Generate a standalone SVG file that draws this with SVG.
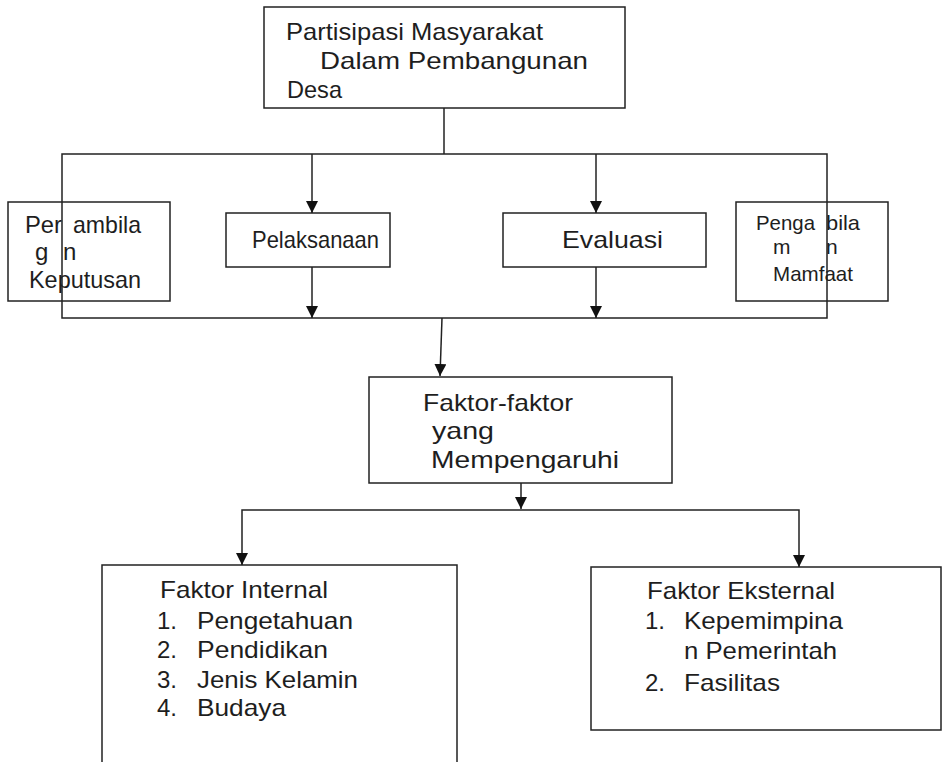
<svg xmlns="http://www.w3.org/2000/svg" width="949" height="762" viewBox="0 0 949 762">
<style>
  .box { fill: #fff; stroke: #222; stroke-width: 1.5; }
  .open { fill: none; stroke: #222; stroke-width: 1.5; }
  .t { font-family: "Liberation Sans", Arial, sans-serif; font-size: 24px; fill: #1e1e1e; }
  .s { font-size: 21px; }
  .c { fill: none; stroke: #222; stroke-width: 1.5; }
  .ca { fill: none; stroke: #222; stroke-width: 1.5; marker-end: url(#arr); }
</style>
<defs>
  <marker id="arr" markerUnits="userSpaceOnUse" markerWidth="12" markerHeight="12" refX="12" refY="6" orient="auto">
    <path d="M0,0 L12,6 L0,12 z" fill="#111"/>
  </marker>
</defs>
<rect width="949" height="762" fill="#fff"/>

<g id="node-partisipasi">
  <rect class="box" x="264" y="7" width="361" height="101"/>
  <text class="t" x="286" y="40" textLength="257" lengthAdjust="spacingAndGlyphs">Partisipasi Masyarakat</text>
  <text class="t" x="320" y="69" textLength="268" lengthAdjust="spacingAndGlyphs">Dalam Pembangunan</text>
  <text class="t" x="287" y="98" textLength="55" lengthAdjust="spacingAndGlyphs">Desa</text>
</g>

<g id="node-pengambilan-keputusan">
  <rect class="box" x="8" y="202" width="162" height="99"/>
  <text class="t" x="25" y="233" textLength="37" lengthAdjust="spacingAndGlyphs">Per</text>
  <text class="t" x="73" y="233" textLength="68" lengthAdjust="spacingAndGlyphs">ambila</text>
  <text class="t" x="35" y="260">g</text>
  <text class="t" x="63" y="260">n</text>
  <text class="t" x="29" y="288" textLength="112" lengthAdjust="spacingAndGlyphs">Keputusan</text>
</g>

<g id="node-pelaksanaan">
  <rect class="box" x="226" y="213" width="164" height="54"/>
  <text class="t" x="252" y="248" textLength="127" lengthAdjust="spacingAndGlyphs">Pelaksanaan</text>
</g>

<g id="node-evaluasi">
  <rect class="box" x="503" y="213" width="203" height="54"/>
  <text class="t" x="562" y="248" textLength="101" lengthAdjust="spacingAndGlyphs">Evaluasi</text>
</g>

<g id="node-pengambilan-manfaat">
  <rect class="box" x="736" y="202" width="152" height="99"/>
  <text class="t s" x="756" y="230" textLength="59" lengthAdjust="spacingAndGlyphs">Penga</text>
  <text class="t s" x="826" y="230" textLength="34" lengthAdjust="spacingAndGlyphs">bila</text>
  <text class="t s" x="773" y="254">m</text>
  <text class="t s" x="826" y="254">n</text>
  <text class="t s" x="773" y="281" textLength="80" lengthAdjust="spacingAndGlyphs">Mamfaat</text>
</g>

<g id="node-faktor">
  <rect class="box" x="369" y="377" width="303" height="106"/>
  <text class="t" x="423" y="411" textLength="150" lengthAdjust="spacingAndGlyphs">Faktor-faktor</text>
  <text class="t" x="432" y="439" textLength="62" lengthAdjust="spacingAndGlyphs">yang</text>
  <text class="t" x="431" y="468" textLength="188" lengthAdjust="spacingAndGlyphs">Mempengaruhi</text>
</g>

<g id="node-faktor-internal">
  <path class="open" d="M102,770 L102,565 L457,565 L457,770"/>
  <text class="t" x="160" y="598" textLength="168" lengthAdjust="spacingAndGlyphs">Faktor Internal</text>
  <text class="t" x="157" y="629">1.</text>
  <text class="t" x="197" y="629" textLength="156" lengthAdjust="spacingAndGlyphs">Pengetahuan</text>
  <text class="t" x="157" y="658">2.</text>
  <text class="t" x="197" y="658" textLength="131" lengthAdjust="spacingAndGlyphs">Pendidikan</text>
  <text class="t" x="157" y="688">3.</text>
  <text class="t" x="197" y="688" textLength="161" lengthAdjust="spacingAndGlyphs">Jenis Kelamin</text>
  <text class="t" x="157" y="716">4.</text>
  <text class="t" x="197" y="716" textLength="89" lengthAdjust="spacingAndGlyphs">Budaya</text>
</g>

<g id="node-faktor-eksternal">
  <rect class="box" x="591" y="567" width="350" height="163"/>
  <text class="t" x="647" y="599" textLength="188" lengthAdjust="spacingAndGlyphs">Faktor Eksternal</text>
  <text class="t" x="645" y="629">1.</text>
  <text class="t" x="684" y="629" textLength="159" lengthAdjust="spacingAndGlyphs">Kepemimpina</text>
  <text class="t" x="684" y="659" textLength="153" lengthAdjust="spacingAndGlyphs">n Pemerintah</text>
  <text class="t" x="645" y="691">2.</text>
  <text class="t" x="684" y="691" textLength="96" lengthAdjust="spacingAndGlyphs">Fasilitas</text>
</g>

<g id="connectors">
  <line class="c" x1="444" y1="108" x2="444" y2="154"/>
  <rect class="c" x="62" y="154" width="765" height="164"/>
  <line class="ca" x1="312" y1="154" x2="312" y2="213"/>
  <line class="ca" x1="596" y1="154" x2="596" y2="213"/>
  <line class="ca" x1="312" y1="267" x2="312" y2="318"/>
  <line class="ca" x1="596" y1="267" x2="596" y2="318"/>
  <line class="ca" x1="442" y1="318" x2="440" y2="376"/>
  <line class="ca" x1="521" y1="483" x2="521" y2="509"/>
  <path class="ca" d="M521,510 L242,510 L242,565"/>
  <path class="ca" d="M521,510 L799,510 L799,567"/>
</g>
</svg>
